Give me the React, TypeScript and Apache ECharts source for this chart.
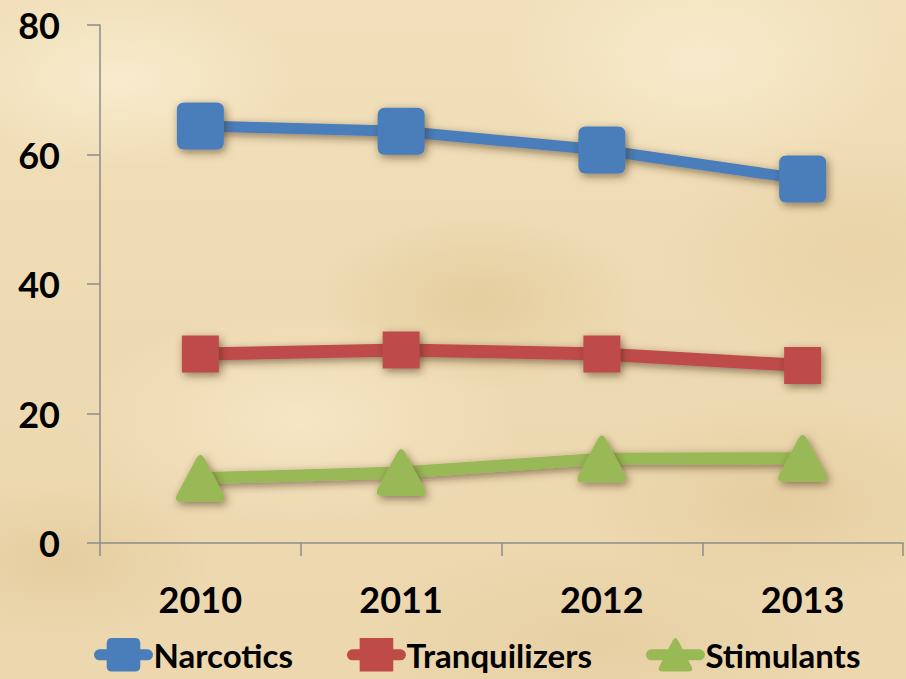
import React, { useEffect, useRef } from "react";
import * as echarts from "echarts";

const categories = ["2010", "2011", "2012", "2013"];
const narcotics = [64.4, 63.6, 60.7, 56.2];
const tranquilizers = [29.2, 29.8, 29.2, 27.4];
const stimulants = [10.0, 10.9, 13.0, 13.1];
const seriesNames = ["Narcotics", "Tranquilizers", "Stimulants"];

const FONT = "Lato, 'Open Sans', sans-serif";

const roundSquare =
  "path://M16,0 H84 Q100,0 100,16 V84 Q100,100 84,100 H16 Q0,100 0,84 V16 Q0,0 16,0 Z";
const roundTriangle =
  "path://M42,10 Q50,-4 58,10 L97,82 Q104,96 88,96 L12,96 Q-4,96 3,82 Z";

export default function App() {
  const ref = useRef<HTMLDivElement>(null);
  useEffect(() => {
    document.body.style.margin = "0";
    const chart = echarts.init(ref.current!, undefined, { renderer: "svg" });
    const shadow = {
      shadowColor: "rgba(60,40,10,0.55)",
      shadowBlur: 8,
      shadowOffsetX: 2,
      shadowOffsetY: 3,
    };
    const mk = (name: string, data: number[], color: string, symbol: string, size: any, width: number) => ({
      name,
      type: "line",
      data,
      symbol,
      symbolSize: size,
      lineStyle: { color, width, ...shadow },
      itemStyle: { color, opacity: 1, ...shadow },
      emphasis: { disabled: true },
      z: 3,
    });
    chart.setOption({
      animation: false,
      backgroundColor: "transparent",
      grid: { left: 100, right: 3, top: 25, bottom: 136, containLabel: false },
      legend: {
        data: seriesNames,
        top: 638,
        left: 94,
        padding: 0,
        itemWidth: 48,
        itemHeight: 42,
        itemGap: 54,
        textStyle: { fontFamily: FONT, fontWeight: "bold", fontSize: 33, color: "#000", padding: [0, 0, 0, 1] },
        itemStyle: { shadowBlur: 0, shadowColor: "transparent", shadowOffsetX: 0, shadowOffsetY: 0 },
        lineStyle: { width: 11, cap: "round", shadowBlur: 0, shadowColor: "transparent", shadowOffsetX: 0, shadowOffsetY: 0 },
      },
      xAxis: {
        type: "category",
        data: categories,
        boundaryGap: true,
        axisLine: { lineStyle: { color: "#8c8c8c", width: 1.5 } },
        axisTick: { show: true, length: 13, inside: false, lineStyle: { color: "#8c8c8c", width: 1.5 } },
        axisLabel: { fontFamily: FONT, fontWeight: "bold", fontSize: 36, color: "#000", margin: 38 },
        splitLine: { show: false },
      },
      yAxis: {
        type: "value",
        min: 0,
        max: 80,
        interval: 20,
        axisLine: { show: true, lineStyle: { color: "#8c8c8c", width: 1.5 } },
        axisTick: { show: true, length: 13, lineStyle: { color: "#8c8c8c", width: 1.5 } },
        axisLabel: { fontFamily: FONT, fontWeight: "bold", fontSize: 36, color: "#000", margin: 40 },
        splitLine: { show: false },
      },
      series: [
        mk(seriesNames[0], narcotics, "#4a7ebb", roundSquare, 47, 11),
        mk(seriesNames[1], tranquilizers, "#be4b48", "rect", 37, 13),
        mk(seriesNames[2], stimulants, "#98b954", roundTriangle, [49, 47], 12),
      ],
    });
    return () => chart.dispose();
  }, []);

  const bg = [
    "radial-gradient(ellipse 180px 90px at 120px 80px, rgba(255,245,220,0.55), transparent)",
    "radial-gradient(ellipse 200px 120px at 700px 60px, rgba(255,245,220,0.5), transparent)",
    "radial-gradient(ellipse 160px 90px at 480px 300px, rgba(210,180,120,0.35), transparent)",
    "radial-gradient(ellipse 220px 110px at 300px 420px, rgba(255,245,220,0.45), transparent)",
    "radial-gradient(ellipse 200px 100px at 780px 500px, rgba(215,185,130,0.35), transparent)",
    "radial-gradient(ellipse 150px 80px at 60px 560px, rgba(215,185,130,0.35), transparent)",
    "radial-gradient(ellipse 240px 100px at 600px 640px, rgba(220,190,140,0.3), transparent)",
    "radial-gradient(ellipse 200px 120px at 860px 250px, rgba(220,190,135,0.3), transparent)",
    "linear-gradient(180deg, #f1e0bb 0%, #eedab2 50%, #ecd7ae 100%)",
  ].join(",");

  return (
    <div style={{ width: 906, height: 679, position: "relative", background: bg, overflow: "hidden" }}>
      <div ref={ref} style={{ width: 906, height: 679 }} />
    </div>
  );
}
